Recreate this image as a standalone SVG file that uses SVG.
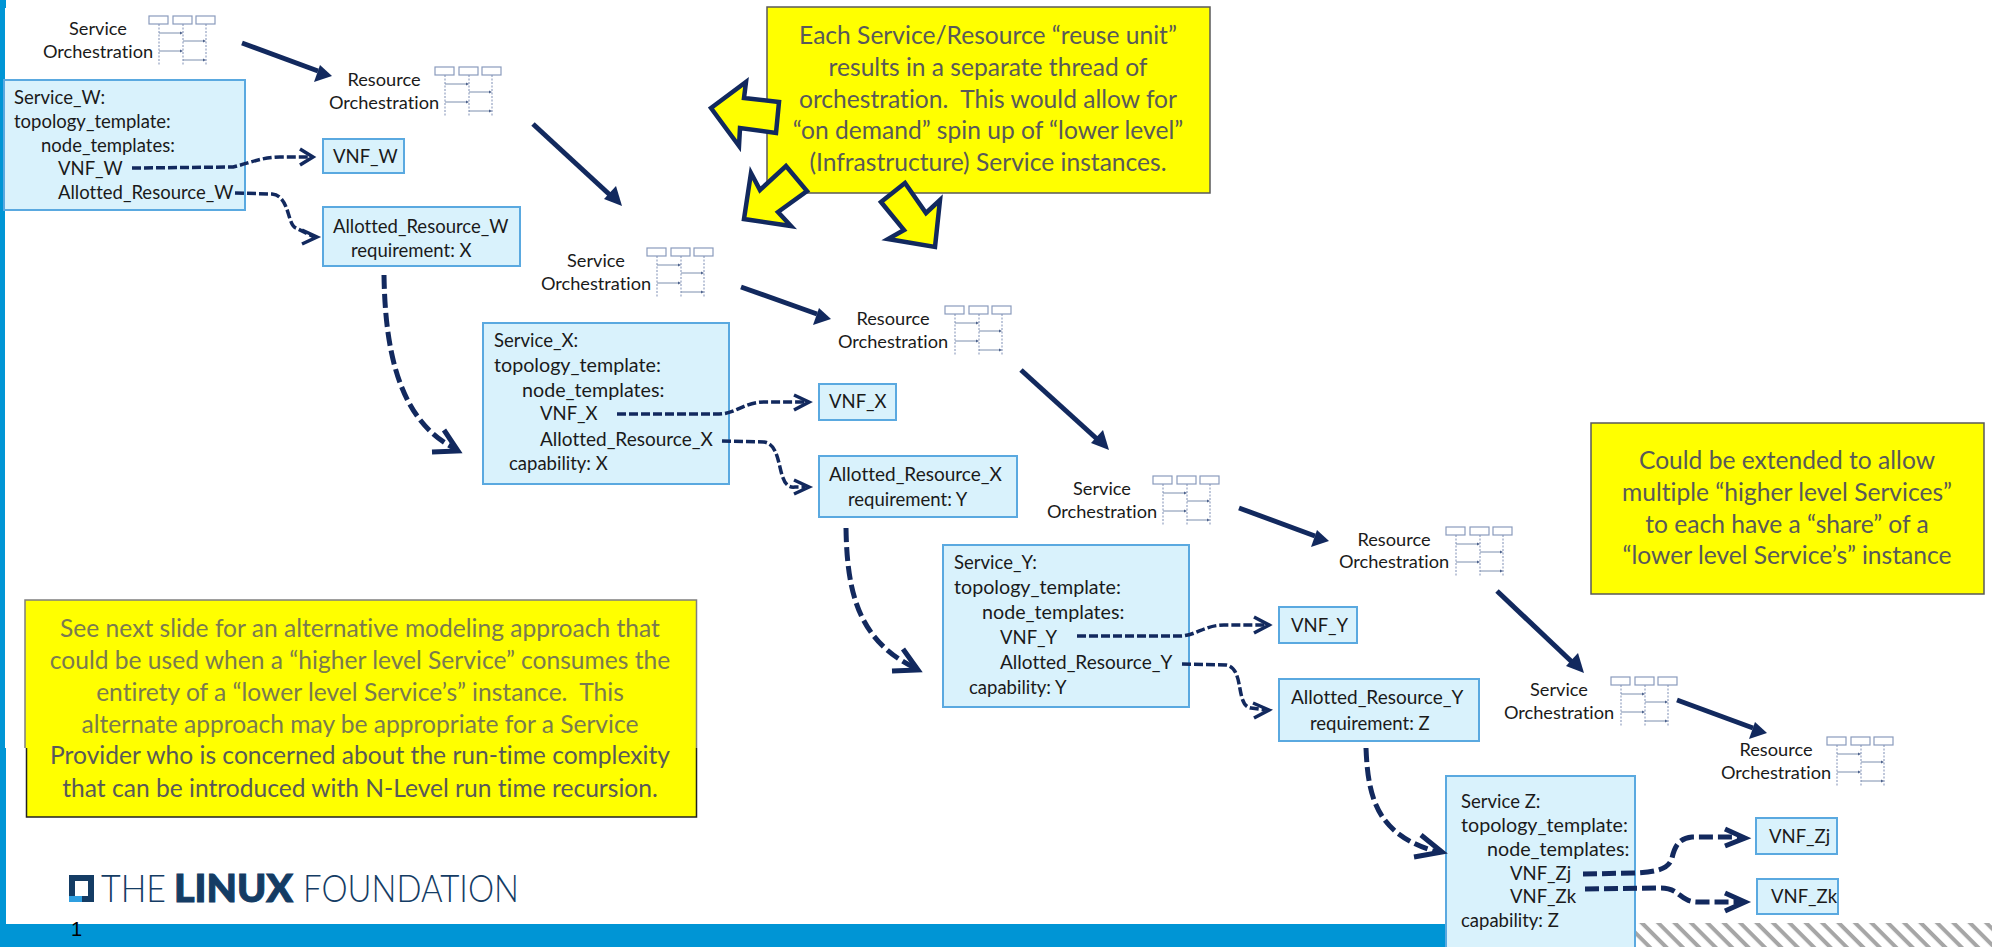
<svg xmlns="http://www.w3.org/2000/svg" width="1992" height="947" viewBox="0 0 1992 947">
<style>
text{font-family:Lato,"Open Sans","Liberation Sans",sans-serif;fill:#1a1a1a;white-space:pre;font-variant-ligatures:none}
.t{font-size:18.5px}
.w{font-size:19.7px}
.a{font-size:19px}
.l{font-size:18.2px;text-anchor:middle}
.b{fill:#d9f2fc;stroke:#5aa9e0;stroke-width:2}
.y{fill:#ffff00;stroke:#595959;stroke-width:1.5}
.yt{font-size:24.6px;text-anchor:middle;fill:#595959}
.yf{font-size:24.6px;text-anchor:middle;fill:#7a7a50}
.ya{fill:#ffff00;stroke:#12295e;stroke-width:4.5}
.s{fill:none;stroke:#12295e;stroke-width:5}
.h{fill:#12295e;stroke:none}
.d1{fill:none;stroke:#12295e;stroke-width:3.5;stroke-dasharray:9 3}
.d2{fill:none;stroke:#12295e;stroke-width:5;stroke-dasharray:14 5}
.c1{fill:none;stroke:#12295e;stroke-width:3.5}
.c2{fill:none;stroke:#12295e;stroke-width:5}
.ib{fill:#fff;stroke:#8a9bbd;stroke-width:1.2}
.il{stroke:#7f8fb5;stroke-width:1;stroke-dasharray:2 1.5;fill:none}
.ia{stroke:#7c8fae;stroke-width:1;fill:none}
.ih{fill:#4d628c;stroke:none}
</style>
<defs>
<pattern id="hatch" width="11.6" height="11.6" patternUnits="userSpaceOnUse" patternTransform="rotate(45)">
<rect width="11.6" height="11.6" fill="#fff"/><rect width="11.6" height="4" fill="#a6a6a6"/>
</pattern>
<g id="icon">
<rect class="ib" x="0" y="0" width="19" height="8"/><rect class="ib" x="24" y="0" width="19" height="8"/><rect class="ib" x="47" y="0" width="19" height="8"/>
<path class="il" d="M10 8V50M34 8V50M57 8V50"/>
<path class="ia" d="M10 17H32M34 25H55M10 35H32M34 44H55"/>
<path class="ih" d="M34 17l-3-1.5v3ZM57 25l-3-1.5v3ZM34 35l-3-1.5v3ZM57 44l-3-1.5v3Z"/>
</g>
</defs>
<g id="background">
<rect x="0" y="0" width="6" height="8" fill="#0095d5"/>
<rect x="0" y="8" width="5" height="740" fill="#0095d5"/>
<rect x="0" y="748" width="6" height="180" fill="#0095d5"/>
<rect x="0" y="924" width="1500" height="23" fill="#0095d5"/>
<rect x="1500" y="923" width="492" height="24" fill="url(#hatch)"/>
</g>
<g id="orch1"><text class="l" x="98" y="35">Service</text><text class="l" x="98" y="58">Orchestration</text><use href="#icon" x="149" y="16"/></g>
<g id="orch2"><text class="l" x="384" y="86">Resource</text><text class="l" x="384" y="109">Orchestration</text><use href="#icon" x="435" y="67"/></g>
<g id="orch3"><text class="l" x="596" y="267">Service</text><text class="l" x="596" y="290">Orchestration</text><use href="#icon" x="647" y="248"/></g>
<g id="orch4"><text class="l" x="893" y="325">Resource</text><text class="l" x="893" y="348">Orchestration</text><use href="#icon" x="945" y="306"/></g>
<g id="orch5"><text class="l" x="1102" y="495">Service</text><text class="l" x="1102" y="518">Orchestration</text><use href="#icon" x="1153" y="476"/></g>
<g id="orch6"><text class="l" x="1394" y="546">Resource</text><text class="l" x="1394" y="568">Orchestration</text><use href="#icon" x="1446" y="527"/></g>
<g id="orch7"><text class="l" x="1559" y="696">Service</text><text class="l" x="1559" y="719">Orchestration</text><use href="#icon" x="1611" y="677"/></g>
<g id="orch8"><text class="l" x="1776" y="756">Resource</text><text class="l" x="1776" y="779">Orchestration</text><use href="#icon" x="1827" y="737"/></g>
<g id="service_w"><rect class="b" x="4" y="80" width="241" height="130"/>
<text class="t" x="14" y="104">Service_W:</text><text class="t" x="14" y="128">topology_template:</text><text class="t" x="41" y="152">node_templates:</text><text class="t" x="58" y="175">VNF_W</text><text class="t" x="58" y="199">Allotted_Resource_W</text></g>
<g id="vnf_w"><rect class="b" x="323" y="139" width="81" height="34"/><text class="t" x="333" y="163">VNF_W</text></g>
<g id="allotted_w"><rect class="b" x="323" y="207" width="197" height="59"/><text class="t" x="333" y="233">Allotted_Resource_W</text><text class="t" x="351" y="257">requirement: X</text></g>
<g id="service_x"><rect class="b" x="483" y="323" width="246" height="161"/>
<text class="t" x="494" y="347">Service_X:</text><text class="w" x="494" y="372">topology_template:</text><text class="w" x="522" y="397">node_templates:</text><text class="t" x="540" y="420">VNF_X</text><text class="a" x="540" y="446">Allotted_Resource_X</text><text class="t" x="509" y="470">capability: X</text></g>
<g id="vnf_x"><rect class="b" x="819" y="384" width="77" height="36"/><text class="t" x="829" y="408">VNF_X</text></g>
<g id="allotted_x"><rect class="b" x="819" y="456" width="198" height="61"/><text class="a" x="829" y="481">Allotted_Resource_X</text><text class="t" x="848" y="506">requirement: Y</text></g>
<g id="service_y"><rect class="b" x="943" y="545" width="246" height="162"/>
<text class="t" x="954" y="569">Service_Y:</text><text class="w" x="954" y="594">topology_template:</text><text class="w" x="982" y="619">node_templates:</text><text class="t" x="1000" y="644">VNF_Y</text><text class="a" x="1000" y="669">Allotted_Resource_Y</text><text class="t" x="969" y="694">capability: Y</text></g>
<g id="vnf_y"><rect class="b" x="1279" y="607" width="78" height="36"/><text class="t" x="1291" y="632">VNF_Y</text></g>
<g id="allotted_y"><rect class="b" x="1279" y="679" width="200" height="62"/><text class="a" x="1291" y="704">Allotted_Resource_Y</text><text class="t" x="1310" y="730">requirement: Z</text></g>
<g id="service_z"><rect class="b" x="1446" y="776" width="189" height="172"/>
<text class="t" x="1461" y="808">Service Z:</text><text class="w" x="1461" y="832">topology_template:</text><text class="w" x="1487" y="856">node_templates:</text><text class="t" x="1510" y="880">VNF_Zj</text><text class="t" x="1510" y="903">VNF_Zk</text><text class="t" x="1461" y="927">capability: Z</text></g>
<g id="vnf_zj"><rect class="b" x="1756" y="818" width="81" height="36"/><text class="t" x="1769" y="843">VNF_Zj</text></g>
<g id="vnf_zk"><rect class="b" x="1757" y="879" width="81" height="35"/><text class="t" x="1771" y="903">VNF_Zk</text></g>
<g id="connectors">
<path class="s" d="M242 43L318 71"/><path class="h" d="M332 76L314 82L320 65Z"/>
<path class="s" d="M533 124L610 195"/><path class="h" d="M622 206L604 199L616 186Z"/>
<path class="s" d="M741 287L817 314"/><path class="h" d="M831 319L813 325L819 308Z"/>
<path class="s" d="M1021 370L1097 439"/><path class="h" d="M1109 450L1091 443L1103 430Z"/>
<path class="s" d="M1239 508L1315 536"/><path class="h" d="M1329 541L1311 547L1317 530Z"/>
<path class="s" d="M1497 591L1572 662"/><path class="h" d="M1584 673L1566 666L1578 653Z"/>
<path class="s" d="M1677 700L1753 728"/><path class="h" d="M1767 733L1749 739L1755 722Z"/>
<path class="d1" d="M132 168L233 167C250 163 262 157 280 157L310 157"/><path class="c1" d="M300 149L313 157L300 165"/>
<path class="d1" d="M235 193L272 194C290 196 287 225 296 228L314 237"/><path class="c1" d="M302 230L317 237L302 244"/>
<path class="d2" d="M384 275C385 340 395 420 456 449"/><path class="c2" d="M444 430L458 451L432 452"/>
<path class="d1" d="M617 414L719 414C735 414 745 402 764 402L805 402"/><path class="c1" d="M794 395L809 402L794 410"/>
<path class="d1" d="M722 441L764 442C785 445 775 490 795 487L805 487"/><path class="c1" d="M794 480L809 487L794 494"/>
<path class="d2" d="M846 528C847 590 857 640 915 668"/><path class="c2" d="M903 649L918 670L892 671"/>
<path class="d1" d="M1077 636L1180 636C1195 636 1205 625 1224 625L1265 625"/><path class="c1" d="M1254 617L1269 625L1254 633"/>
<path class="d1" d="M1182 664L1226 665C1245 668 1235 706 1251 708L1265 710"/><path class="c1" d="M1253 703L1269 710L1254 718"/>
<path class="d2" d="M1366 748C1368 800 1378 835 1437 852"/><path class="c2" d="M1421 835L1442 852L1414 857"/>
<path class="d2" d="M1583 874L1634 873C1660 872 1669 868 1672 858C1675 845 1680 838 1692 837L1742 837"/><path class="c2" d="M1725 829L1745 838L1725 846"/>
<path class="d2" d="M1585 889L1661 888C1680 888 1680 902 1697 902L1742 902"/><path class="c2" d="M1725 893L1745 902L1725 911"/>
</g>
<g id="note_top"><rect class="y" x="767" y="7" width="443" height="186"/>
<text class="yt" x="988" y="44">Each Service/Resource “reuse unit”</text><text class="yt" x="988" y="76">results in a separate thread of</text><text class="yt" x="988" y="108">orchestration.  This would allow for</text><text class="yt" x="988" y="139">“on demand” spin up of “lower level”</text><text class="yt" x="988" y="171">(Infrastructure) Service instances.</text></g>
<g id="callouts">
<path class="ya" d="M711 108L746 82L744 98L779 102L776 133L740 128L739 146Z"/>
<path class="ya" d="M751 173L760 190L786 166L807 191L778 212L791 226L744 219Z"/>
<path class="ya" d="M881 202L905 183L926 213L940 200L935 247L888 239L904 230Z"/>
</g>
<g id="note_right"><rect class="y" x="1591" y="423" width="393" height="171"/>
<text class="yt" x="1787" y="469">Could be extended to allow</text><text class="yt" x="1787" y="501">multiple “higher level Services”</text><text class="yt" x="1787" y="533">to each have a “share” of a</text><text class="yt" x="1787" y="564">“lower level Service’s” instance</text></g>
<g id="note_bottom"><rect x="25" y="600" width="671" height="148" fill="#ffff00"/><rect x="26.5" y="748" width="670" height="69" fill="#ffff00"/>
<path d="M25 748V600H696.5V748" fill="none" stroke="#7f7f7f" stroke-width="1.5"/><path d="M26.5 748V817H696.5V748" fill="none" stroke="#222" stroke-width="1.5"/>
<text class="yf" x="360" y="637">See next slide for an alternative modeling approach that</text><text class="yf" x="360" y="669">could be used when a “higher level Service” consumes the</text><text class="yf" x="360" y="701">entirety of a “lower level Service’s” instance.  This</text><text class="yf" x="360" y="733">alternate approach may be appropriate for a Service</text><text class="yt" x="360" y="764">Provider who is concerned about the run-time complexity</text><text class="yt" x="360" y="797">that can be introduced with N-Level run time recursion.</text></g>
<g id="logo">
<path d="M69 875H94V902H82V896H88V881H75V896H69Z" fill="#143c64"/><rect x="69" y="896" width="13" height="6" fill="#2f9fe0"/>
<text x="101" y="902" font-size="37" font-weight="300" textLength="65" lengthAdjust="spacingAndGlyphs" style="fill:#143c64">THE</text>
<text x="174" y="902" font-size="37" font-weight="900" textLength="119" lengthAdjust="spacingAndGlyphs" style="fill:#143c64;stroke:#143c64;stroke-width:1">LINUX</text>
<text x="303" y="902" font-size="37" font-weight="300" textLength="216" lengthAdjust="spacingAndGlyphs" style="fill:#143c64">FOUNDATION</text>
</g>
<text id="pagenum" x="71" y="936" font-size="20" style="font-family:'Liberation Sans',sans-serif;fill:#000">1</text>
</svg>
